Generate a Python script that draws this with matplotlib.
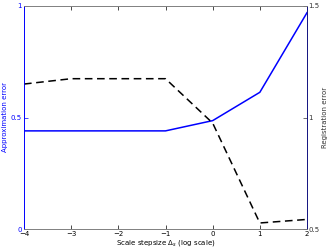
import matplotlib
matplotlib.use('Agg')
import matplotlib.pyplot as plt

steps = [-4, -3, -2, -1, 0, 1, 2]
approx_err = [0.44, 0.44, 0.44, 0.44, 0.486, 0.613, 0.97]
reg_err = [1.15, 1.174, 1.174, 1.174, 0.975, 0.527, 0.543]

plt.rcParams['font.family'] = 'DejaVu Sans'
plt.rcParams['font.size'] = 5

fig = plt.figure(figsize=(3.32, 2.5), dpi=100)
ax = fig.add_axes([24 / 332, 21 / 250, 283 / 332, 223 / 250])
ax2 = ax.twinx()

ax.plot(steps, approx_err, color='#0000ff', lw=1.1)
ax2.plot(steps, reg_err, color='black', lw=1.1, ls=(0, (5, 3)))

ax.set_xlim(-4, 2)
ax.set_ylim(0, 1)
ax2.set_ylim(0.5, 1.5)
ax.set_xticks(steps)
ax.set_yticks([0, 0.5, 1])
ax2.set_yticks([0.5, 1, 1.5])
ax.set_yticklabels(['0', '0.5', '1'])
ax2.set_yticklabels(['0.5', '1', '1.5'])

for a in (ax, ax2):
    for s in a.spines.values():
        s.set_color('#808080')
        s.set_linewidth(0.6)
ax.spines['left'].set_color('#0000ff')
ax2.spines['left'].set_color('#0000ff')
ax2.spines['right'].set_color('#000080')

ax.tick_params(axis='x', direction='in', length=3, width=0.5, top=True, pad=1.5, colors='black')
ax.tick_params(axis='y', direction='in', length=3, width=0.5, colors='#0000ff', pad=1.5)
ax2.tick_params(axis='y', direction='in', length=3, width=0.5, colors='#333333', pad=1)

ax.set_xlabel(r'Scale stepsize $\Delta_s$ (log scale)', labelpad=0.5)
ax.set_ylabel('Approximation error', color='#0000ff', labelpad=2)
ax2.set_ylabel('Registration error', color='#333333', labelpad=2)

fig.savefig('out.png', dpi=100)
